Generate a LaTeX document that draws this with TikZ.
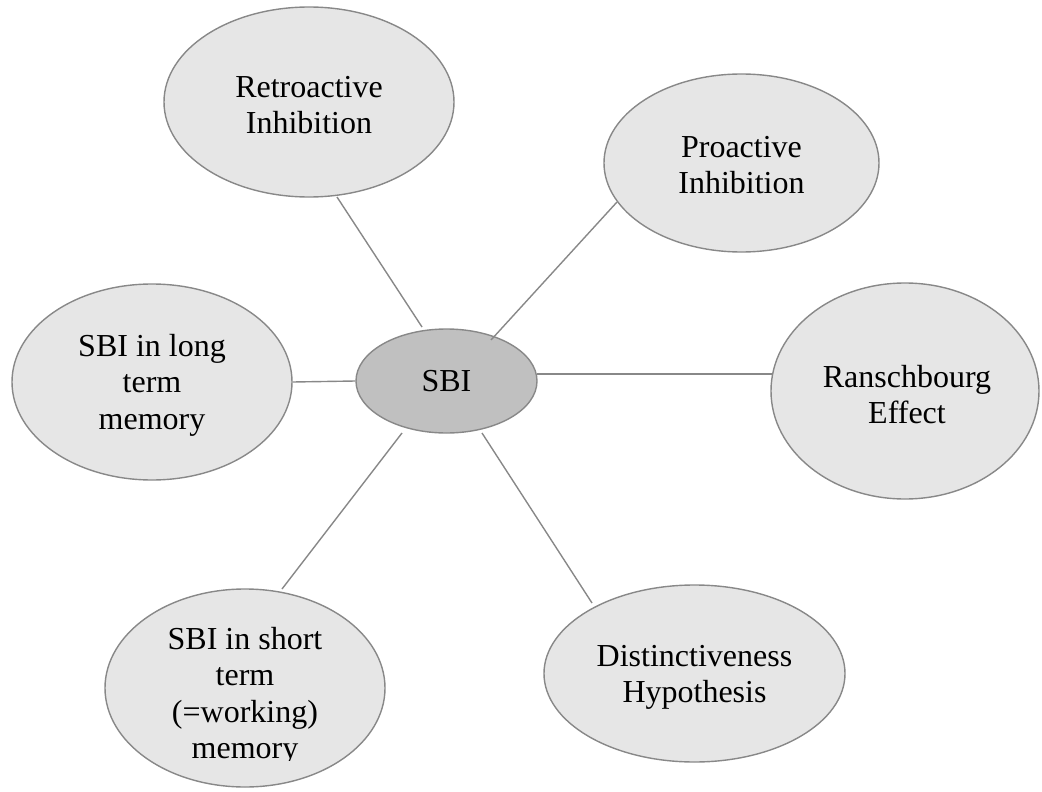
\documentclass[tikz,border=0pt]{standalone}
\usepackage{fontspec}
\setmainfont{Liberation Serif}
\usetikzlibrary{shapes.geometric}
\definecolor{edgegrey}{RGB}{136,136,136}
\definecolor{bubfill}{RGB}{230,230,230}
\definecolor{hubfill}{RGB}{192,192,192}
\newcommand{\mlines}[1]{\begin{tabular}[t]{@{}c@{}}#1\end{tabular}}
\tikzset{
  bub/.style={ellipse, draw=edgegrey, line width=1.4pt, fill=bubfill, inner sep=0pt},
  hub/.style={bub, fill=hubfill, font=\fontsize{32}{36.5}\selectfont},
  txt/.style={inner sep=0pt, anchor=base, font=\fontsize{32}{36.5}\selectfont},
  link/.style={draw=edgegrey, line width=1.4pt}
}
\begin{document}
\begin{tikzpicture}[x=1pt,y=-1pt]
\useasboundingbox (0,0) rectangle (1042,792);
% bubbles
\node[bub, minimum width=290pt, minimum height=190pt] (retro) at (309,102) {};
\node[bub, minimum width=275pt, minimum height=178pt] (pro) at (741.5,163) {};
\node[bub, minimum width=280pt, minimum height=196pt] (long) at (152,382) {};
\node[hub, minimum width=181pt, minimum height=104pt] (sbi) at (446.5,381) {SBI};
\node[bub, minimum width=268pt, minimum height=216pt] (ransch) at (905,391) {};
\node[bub, minimum width=280pt, minimum height=198pt] (short) at (245,688) {};
\node[bub, minimum width=301pt, minimum height=177pt] (dist) at (694.5,673.5) {};
% texts
\node[txt] (retroT) at (309,97) {\mlines{Retroactive\\Inhibition}};
\node[txt] (proT) at (741.5,157) {\mlines{Proactive\\Inhibition}};
\node[txt] (longT) at (152,356) {\mlines{SBI in long\\term\\memory}};
\node[txt] (ranschT) at (907,387) {\mlines{Ranschbourg\\Effect}};
\node[txt] (distT) at (694.5,666) {\mlines{Distinctiveness\\Hypothesis}};
\begin{scope}
  \clip (100,560) rectangle (400,760);
  \node[txt] (shortT) at (245,649) {\mlines{SBI in short\\term\\(=working)\\memory}};
\end{scope}
% connectors
\draw[link] ([shift={(28,95)}]retro.center) -- ([shift={(-24.5,-54)}]sbi.center);
\draw[link] ([shift={(-124.5,39)}]pro.center) -- ([shift={(44.5,-41)}]sbi.center);
\draw[link] (long.east) -- (sbi.west);
\draw[link] ([shift={(90.5,-7)}]sbi.center) -- ([shift={(-133,-17)}]ransch.center);
\draw[link] ([shift={(-44.5,52)}]sbi.center) -- ([shift={(37,-99)}]short.center);
\draw[link] ([shift={(35.5,52)}]sbi.center) -- ([shift={(-102.5,-70.5)}]dist.center);
\end{tikzpicture}
\end{document}
